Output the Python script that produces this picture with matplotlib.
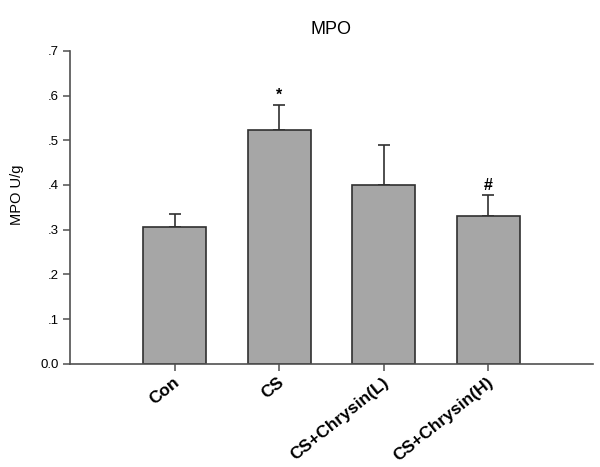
import matplotlib.pyplot as plt
import matplotlib.transforms as mtransforms
import numpy as np

plt.rcParams['font.family'] = ['Liberation Sans', 'DejaVu Sans']

# Data
groups = ['Con', 'CS', 'CS+Chrysin(L)', 'CS+Chrysin(H)']
mpo_mean = [0.307, 0.524, 0.399, 0.331]
mpo_err = [0.028, 0.054, 0.091, 0.046]
marks = ['', '*', '', '#']
y_ticks = [0.0, 0.1, 0.2, 0.3, 0.4, 0.5, 0.6, 0.7]
y_ticklabels = ['0.0', '.1', '.2', '.3', '.4', '.5', '.6', '.7']

fig = plt.figure(figsize=(6, 4.67), dpi=100)
ax = fig.add_axes([0.117, 0.221, 0.871, 0.670])

x = np.arange(len(groups))
ax.bar(x, mpo_mean, width=0.6, color='#a6a6a6', edgecolor='#303030', linewidth=1.2, zorder=2)
ax.errorbar(x, mpo_mean, yerr=[np.zeros(len(x)), mpo_err], fmt='none',
            ecolor='#303030', elinewidth=1.2, capsize=4, capthick=1.2, zorder=1)

for xi, m, e, s in zip(x, mpo_mean, mpo_err, marks):
    if s:
        ax.text(xi, m + e + 0.006, s, ha='center', va='bottom', fontsize=11.5, fontweight='bold')

ax.set_xlim(-1, 4)
ax.set_ylim(0, 0.7)
ax.set_yticks(y_ticks)
ax.set_yticklabels(y_ticklabels, fontsize=9.5)
ax.set_xticks(x)
ax.set_xticklabels([])

# rotated group names, anchored at their right end just below each tick
offset = mtransforms.ScaledTranslation(3 / 100, -17 / 100, fig.dpi_scale_trans)
for xi, name in zip(x, groups):
    ax.text(xi, 0, name, transform=ax.get_xaxis_transform() + offset,
            fontsize=12.5, fontweight='bold', rotation=39,
            ha='right', va='center', rotation_mode='anchor')

for side in ['top', 'right']:
    ax.spines[side].set_visible(False)
for side in ['left', 'bottom']:
    ax.spines[side].set_color('#505050')
    ax.spines[side].set_linewidth(1.2)
ax.tick_params(axis='both', direction='out', length=5, width=1.1, color='#505050')

ax.set_ylabel('MPO U/g', fontsize=10.5)
ax.yaxis.set_label_coords(-0.088, 0.54)
ax.set_title('MPO', fontsize=13, pad=12)

fig.savefig('out.png', dpi=100)
